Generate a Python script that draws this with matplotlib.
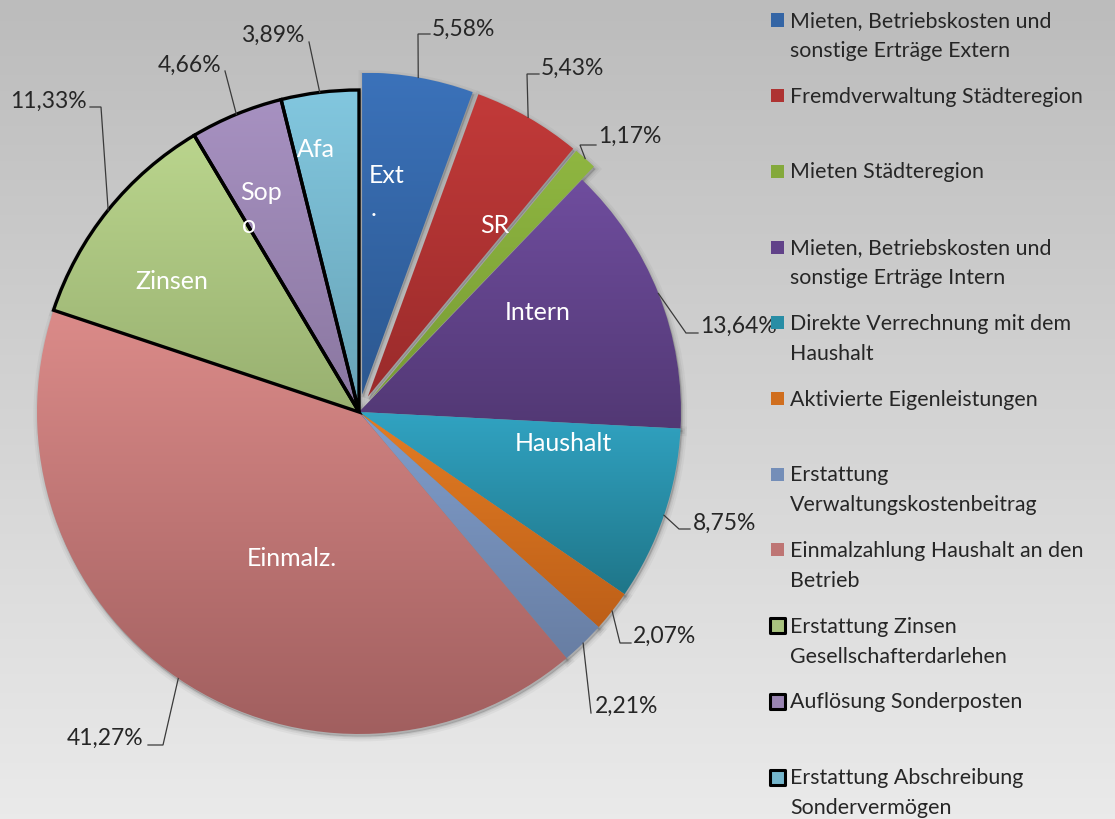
import numpy as np
import matplotlib
matplotlib.use("Agg")
import matplotlib.pyplot as plt
from matplotlib.colors import LinearSegmentedColormap, to_rgb
from matplotlib.patches import Rectangle, Wedge

plt.rcParams["font.family"] = ["Lato", "DejaVu Sans"]

# ---- data -------------------------------------------------------------
categories = [
    "Mieten, Betriebskosten und\nsonstige Erträge Extern",
    "Fremdverwaltung Städteregion",
    "Mieten Städteregion",
    "Mieten, Betriebskosten und\nsonstige Erträge Intern",
    "Direkte Verrechnung mit dem\nHaushalt",
    "Aktivierte Eigenleistungen",
    "Erstattung\nVerwaltungskostenbeitrag",
    "Einmalzahlung Haushalt an den\nBetrieb",
    "Erstattung Zinsen\nGesellschafterdarlehen",
    "Auflösung Sonderposten",
    "Erstattung Abschreibung\nSondervermögen",
]
shares = [5.58, 5.43, 1.17, 13.64, 8.75, 2.07, 2.21, 41.27, 11.33, 4.66, 3.89]
short_labels = ["Ext\n.", "SR", "", "Intern", "Haushalt", "", "",
                "Einmalz.", "Zinsen", "Sop\no", "Afa"]

top_colors = ["#3b72ba", "#c23a39", "#8fb641", "#6f4d9e", "#31a3c2", "#e37d24",
              "#809ecc", "#db8b89", "#bad58d", "#a791c1", "#82c7df"]
bottom_colors = ["#2c5890", "#9a2b2b", "#789c34", "#523874", "#1f7689", "#bd5f18",
                 "#687ea3", "#a15f5f", "#98b070", "#8a77a0", "#68a3b6"]
explode = [0.055, 0.055, 0.055, 0, 0, 0, 0, 0, 0, 0, 0]
outlined = [False] * 8 + [True] * 3

# ---- canvas -----------------------------------------------------------
W, H = 1115, 819
CX, CY, R = 359, 412, 322

fig = plt.figure(figsize=(W / 100, H / 100), dpi=100)

bg = fig.add_axes([0, 0, 1, 1], zorder=0)
bg.imshow(np.linspace(0, 1, 256).reshape(-1, 1), aspect="auto",
          cmap=LinearSegmentedColormap.from_list("bg", ["#bcbcbc", "#eaeaea"]),
          extent=[0, 1, 0, 1], interpolation="bicubic")
bg.axis("off")

ax = fig.add_axes([0, 0, 1, 1], zorder=1)
ax.patch.set_alpha(0)


def px(x, y):
    """pixel position (origin top-left) -> data coordinates of the pie axes"""
    return (x - CX) / R, (CY - y) / R


wedges, _ = ax.pie(shares, startangle=90, counterclock=False, explode=explode,
                   radius=1, colors=top_colors, wedgeprops=dict(linewidth=0))

grad = np.linspace(0, 1, 256).reshape(-1, 1)
for w, ctop, cbot, edge in zip(wedges, top_colors, bottom_colors, outlined):
    # soft drop shadow
    for lw, a in [(7, 0.035), (4, 0.05), (1.5, 0.07)]:
        ax.add_patch(Wedge((w.center[0] + 0.004, w.center[1] - 0.008), w.r,
                           w.theta1, w.theta2, facecolor="black",
                           edgecolor="black", linewidth=lw, alpha=a, zorder=1.5))
    ext = w.get_path().get_extents()
    cmap = LinearSegmentedColormap.from_list("g", [cbot, ctop])
    im = ax.imshow(grad, cmap=cmap, origin="lower", aspect="auto",
                   extent=[ext.x0, ext.x1, ext.y0, ext.y1],
                   interpolation="bicubic", zorder=2)
    im.set_clip_path(w)
    w.set_facecolor("none")
    w.set_zorder(3)
    if edge:
        w.set_edgecolor("black")
        w.set_linewidth(2.4)
        w.set_joinstyle("miter")

# slice names inside the pie (left x, first baseline)
inner_pos = [(369, 183), (480, 233), None, (505, 320), (515, 451), None, None,
             (247, 566), (135, 289), (240, 200), (297, 157)]
for lab, pos in zip(short_labels, inner_pos):
    if not lab or pos is None:
        continue
    for j, line in enumerate(lab.split("\n")):
        x, y = px(pos[0] + 2 * j, pos[1] + 33 * j)
        ax.text(x, y, line, color="white", fontsize=18, ha="left",
                va="baseline", zorder=5)

# percentage labels: (text x, baseline, side) and leader elbow / end in px
pct_pos = [(432, 36, "l"), (541, 75, "l"), (598, 143, "l"), (700, 333, "l"),
           (693, 530, "l"), (633, 643, "l"), (595, 713, "l"), (143, 745, "r"),
           (87, 108, "r"), (221, 72, "r"), (304, 42, "r")]
leader_pts = [((418, 34), (430, 34)), ((527, 74), (539, 74)),
              ((580, 145), (596, 145)), ((686, 333), (698, 333)),
              ((679, 529), (690, 529)), ((620, 643), (631, 643)),
              ((591, 713), (591, 713)), ((163, 745), (148, 745)),
              ((101, 107), (90, 107)), ((225, 71), (225, 71)),
              ((309, 42), (309, 42))]

for w, v, (tx, ty, side), (elbow, end) in zip(wedges, shares, pct_pos, leader_pts):
    txt = f"{v:.2f}%".replace(".", ",")
    x, y = px(tx, ty)
    ax.text(x, y, txt, fontsize=16.5, color="#262626",
            ha="left" if side == "l" else "right", va="baseline", zorder=5)
    th = np.deg2rad((w.theta1 + w.theta2) / 2)
    start = (w.center[0] + w.r * np.cos(th), w.center[1] + w.r * np.sin(th))
    e1 = px(*elbow)
    e2 = px(*end)
    ax.plot([start[0], e1[0], e2[0]], [start[1], e1[1], e2[1]],
            color="#3a3a3a", linewidth=0.9, zorder=4, solid_joinstyle="miter")

# legend
LEG_X, LEG_Y0, LEG_STEP, LINE_STEP = 790, 27, 75.7, 30
for i, (name, ctop, cbot, edge) in enumerate(zip(categories, top_colors,
                                                  bottom_colors, outlined)):
    base = LEG_Y0 + LEG_STEP * i
    mid = tuple((np.array(to_rgb(ctop)) + np.array(to_rgb(cbot))) / 2)
    size = 15 if edge else 13
    x0, y0 = px(777 - size / 2, base - 7 + size / 2)
    ax.add_patch(Rectangle((x0, y0), size / R, size / R, facecolor=mid,
                           edgecolor="black" if edge else "none",
                           linewidth=2.2 if edge else 0, zorder=5,
                           joinstyle="round"))
    for j, line in enumerate(name.split("\n")):
        x, y = px(LEG_X, base + LINE_STEP * j)
        ax.text(x, y, line, fontsize=15.4, color="#262626", ha="left",
                va="baseline", zorder=5)

ax.set_xlim(-CX / R, (W - CX) / R)
ax.set_ylim((CY - H) / R, CY / R)
ax.set_aspect("auto")
ax.axis("off")

fig.savefig("out.png", dpi=100)
